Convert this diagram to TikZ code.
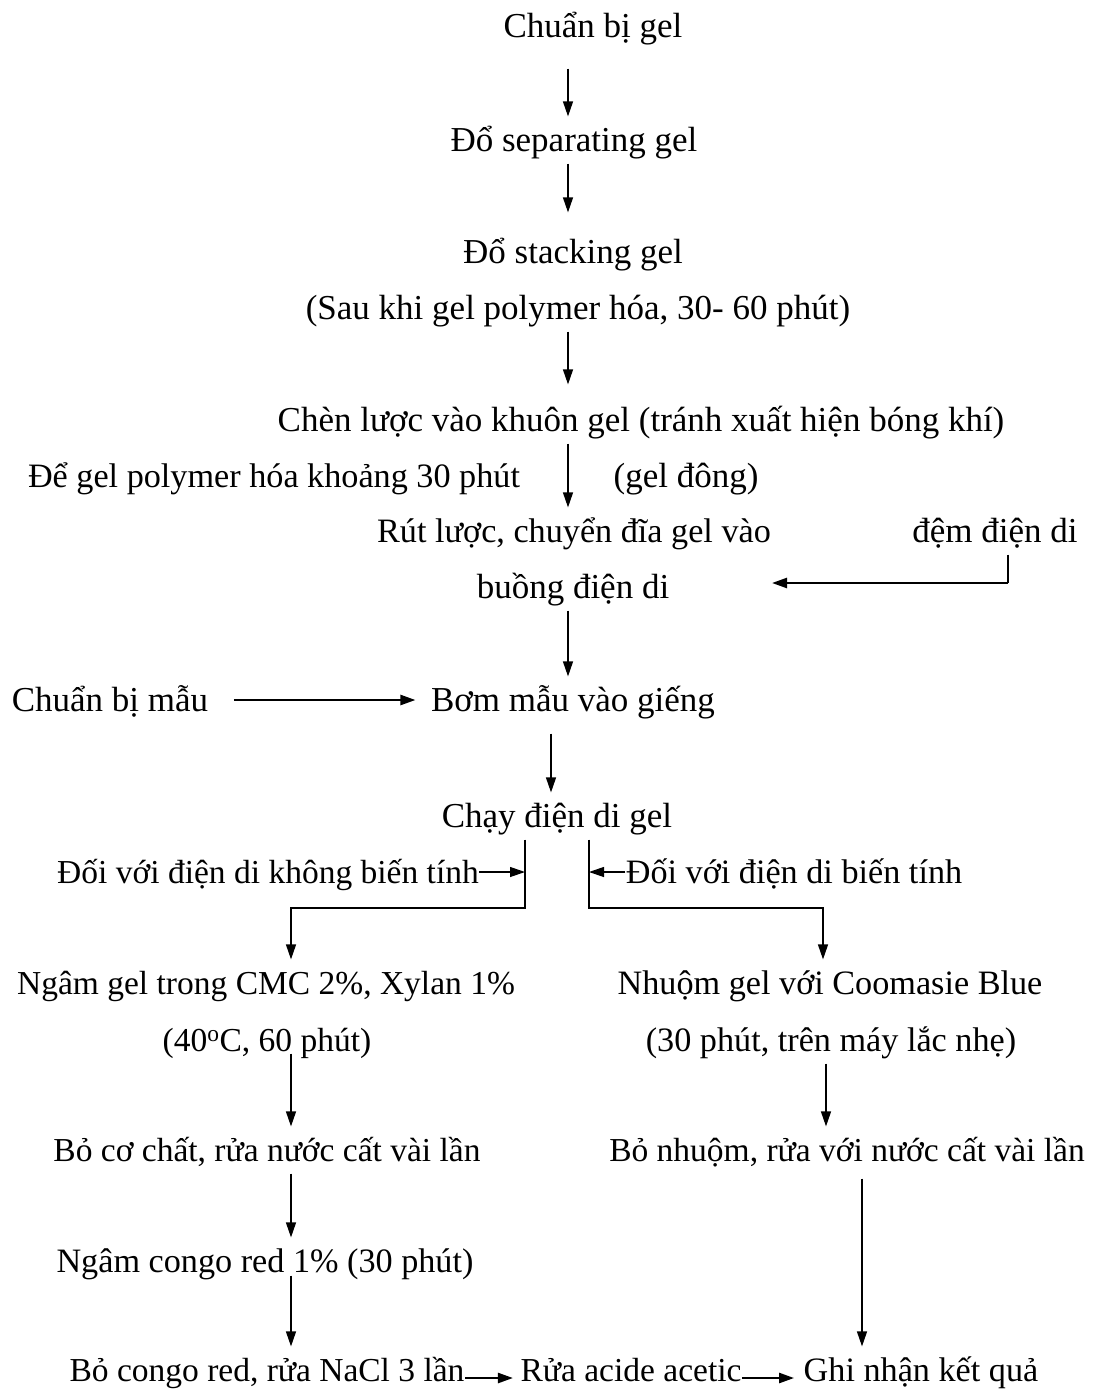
\documentclass[tikz,border=0pt]{standalone}
\usepackage{fontspec}
\setmainfont{Liberation Serif}
\usetikzlibrary{arrows.meta}

\begin{document}
\begin{tikzpicture}[x=1pt,y=-1pt,line width=1.2pt,
  every node/.style={anchor=base,inner sep=0pt,text height=34pt,text depth=12pt,font=\fontsize{35}{42}\selectfont},
  sm/.style={font=\fontsize{33.5}{40}\selectfont},
  md/.style={font=\fontsize{34.2}{41}\selectfont},
  arr/.style={-{Triangle[length=15pt,width=10pt]}},
  arrb/.style={arr,line width=2.4pt}]
  \useasboundingbox (0,0) rectangle (1101,1389);
  \node (gel) at (593,38) {Chuẩn bị gel};
  \node (sep) at (574,151) {Đổ separating gel};
  \node (stack) at (573,263) {Đổ stacking gel};
  \node (stackb) at (578,319) {(Sau khi gel polymer hóa, 30- 60 phút)};
  \node (comb) at (641,431) {Chèn lược vào khuôn gel (tránh xuất hiện bóng khí)};
  \node[md] (wait) at (274,487) {Để gel polymer hóa khoảng 30 phút};
  \node (cure) at (686,487) {(gel đông)};
  \node[md] (pull) at (574,542) {Rút lược, chuyển đĩa gel vào};
  \node (buffer) at (995,542) {đệm điện di};
  \node (chamber) at (573,598) {buồng điện di};
  \node (prep) at (110,711) {Chuẩn bị mẫu};
  \node (load) at (573,711) {Bơm mẫu vào giếng};
  \node (run) at (557,827) {Chạy điện di gel};
  \node[sm] (nd) at (268,883) {Đối với điện di không biến tính};
  \node[md] (dn) at (794,883) {Đối với điện di biến tính};
  \node[sm] (soak) at (266,994) {Ngâm gel trong CMC 2\%, Xylan 1\%};
  \node[sm] (soakb) at (267,1051) {(40\textsuperscript{o}C, 60 phút)};
  \node[md] (stain) at (830,994) {Nhuộm gel với Coomasie Blue};
  \node[md] (stainb) at (831,1051) {(30 phút, trên máy lắc nhẹ)};
  \node[sm] (wash) at (267,1161) {Bỏ cơ chất, rửa nước cất vài lần};
  \node[sm] (destain) at (847,1161) {Bỏ nhuộm, rửa với nước cất vài lần};
  \node[md] (congo) at (265,1272) {Ngâm congo red 1\% (30 phút)};
  \node[sm] (nacl) at (267,1381) {Bỏ congo red, rửa NaCl 3 lần};
  \node[sm] (acetic) at (631,1381) {Rửa acide acetic};
  \node[md] (result) at (921,1381) {Ghi nhận kết quả};
  \coordinate (mid) at (568,0);
  \coordinate (midb) at (551,0);
  \coordinate (lcol) at (291,0);
  \coordinate (rcol) at (826,0);
  \coordinate (rcolb) at (862,0);
  \coordinate (jl) at (525,908);
  \coordinate (jr) at (589,908);
  \coordinate (bufturn) at (1008,583);
  \coordinate (bufin) at (772,583);
  \draw[arr,shorten <=18pt] (gel.south -| mid) -- (sep.north -| mid);
  \draw[arr,shorten >=16pt] (sep.south -| mid) -- (stack.north -| mid);
  \draw[arr,shorten >=12pt] (stackb.south -| mid) -- (comb.north -| mid);
  \draw[arr] (comb.south -| mid) -- (pull.north -| mid);
  \draw (buffer.south -| bufturn) -- (bufturn);
  \draw[arrb] (bufturn) -- (bufin);
  \draw[arr] (chamber.south -| mid) -- (load.north -| mid);
  \draw[arrb,shorten <=25pt,shorten >=15pt] (prep.east) -- (load.west);
  \draw[arr,shorten <=10pt] (load.south -| midb) -- (run.north -| midb);
  \draw[arr] (run.south -| jl) -- (jl) -| (soak.north -| lcol);
  \draw[arr] (run.south -| jr) -- (jr) -| (stain.north -| 823,0);
  \draw[arr] (nd.east) -- (nd.east -| jl);
  \draw[arr] (dn.west) -- (dn.west -| jr);
  \draw[arr,shorten <=-10pt] (soakb.south -| lcol) -- (wash.north -| lcol);
  \draw[arr] (stainb.south -| rcol) -- (destain.north -| rcol);
  \draw[arr] (wash.south -| lcol) -- (congo.north -| lcol);
  \draw[arr,shorten <=-9pt] (congo.south -| lcol) -- (nacl.north -| lcol);
  \draw[arr,shorten <=5pt] (destain.south -| rcolb) -- (result.north -| rcolb);
  \draw[arrb,shorten >=7pt] ([yshift=-8pt]nacl.east) -- ([yshift=-8pt]acetic.west);
  \draw[arrb,shorten >=9pt] ([yshift=-8pt]acetic.east) -- ([yshift=-8pt]result.west);
\end{tikzpicture}
\end{document}
